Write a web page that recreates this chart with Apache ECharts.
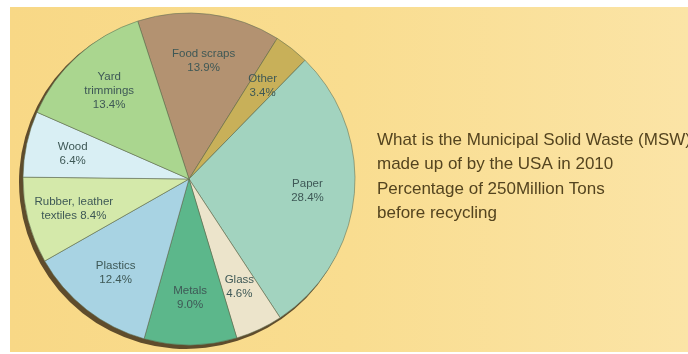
<!DOCTYPE html>
<html><head><meta charset="utf-8">
<script src="https://cdn.jsdelivr.net/npm/echarts@6/dist/echarts.min.js"></script>
<style>
html,body{margin:0;padding:0;background:#fff;}
#wrap{position:relative;width:688px;height:354px;overflow:hidden;}
#bg{position:absolute;left:10px;top:7px;right:0;bottom:2px;background:linear-gradient(90deg,#f8d886 0%,#f9dd90 50%,#fbe4a6 100%);}
#chart{position:absolute;left:0;top:0;width:688px;height:354px;}
</style></head>
<body><div id="wrap"><div id="bg"></div><div id="chart"></div></div>
<script>
var categories = ['Food scraps','Other','Paper','Glass','Metals','Plastics','Rubber, leather\ntextiles','Wood','Yard\ntrimmings'];
var values = [13.9, 3.4, 28.4, 4.6, 9.0, 12.4, 8.4, 6.4, 13.4];
var colors = ['#b39271','#c8b059','#a2d3bf','#ece4cb','#5cb78b','#a8d3e3','#d4e9aa','#d9eff4','#aad68f'];
var titleLines = ['What is the Municipal Solid Waste (MSW)','made up of by the USA in 2010','Percentage of 250Million Tons','before recycling'];

var chart = echarts.init(document.getElementById('chart'), null, {renderer:'canvas'});
var data = categories.map(function(c,i){return {name:c, value:values[i], itemStyle:{color:colors[i]}};});
var total = values.reduce(function(a,b){return a+b;},0);
var font = '"Liberation Sans",Arial,sans-serif';
chart.setOption({
  animation:false,
  backgroundColor:'transparent',
  title:{
    text:titleLines.join('\n'),
    left:372, top:123,
    textStyle:{fontFamily:font,fontSize:17,fontWeight:'normal',color:'#54441f',lineHeight:24.5}
  },
  series:[
    {type:'pie', silent:true, center:[186,182], radius:167, startAngle:108,
     label:{show:false}, labelLine:{show:false},
     data:[{value:total,itemStyle:{color:'#5f4c2c'}}]},
    {type:'pie', silent:true, center:[189,179], radius:166, startAngle:108, clockwise:true,
     label:{show:false}, labelLine:{show:false},
     itemStyle:{borderColor:'rgba(95,110,80,0.55)',borderWidth:1},
     data:data},
    {type:'pie', silent:true, center:[189,179], radius:232, startAngle:108, clockwise:true,
     itemStyle:{color:'rgba(0,0,0,0)',borderWidth:0},
     labelLine:{show:false},
     label:{show:true, position:'inside', fontFamily:font, fontSize:11.5, lineHeight:14, color:'#3e5856',
       formatter:function(p){var v=p.value.toFixed(1)+'%'; return p.name.indexOf('textiles')>=0 ? p.name+' '+v : p.name+'\n'+v;}},
     data:categories.map(function(c,i){return {name:c,value:values[i]};})}
  ]
});
</script></body></html>
